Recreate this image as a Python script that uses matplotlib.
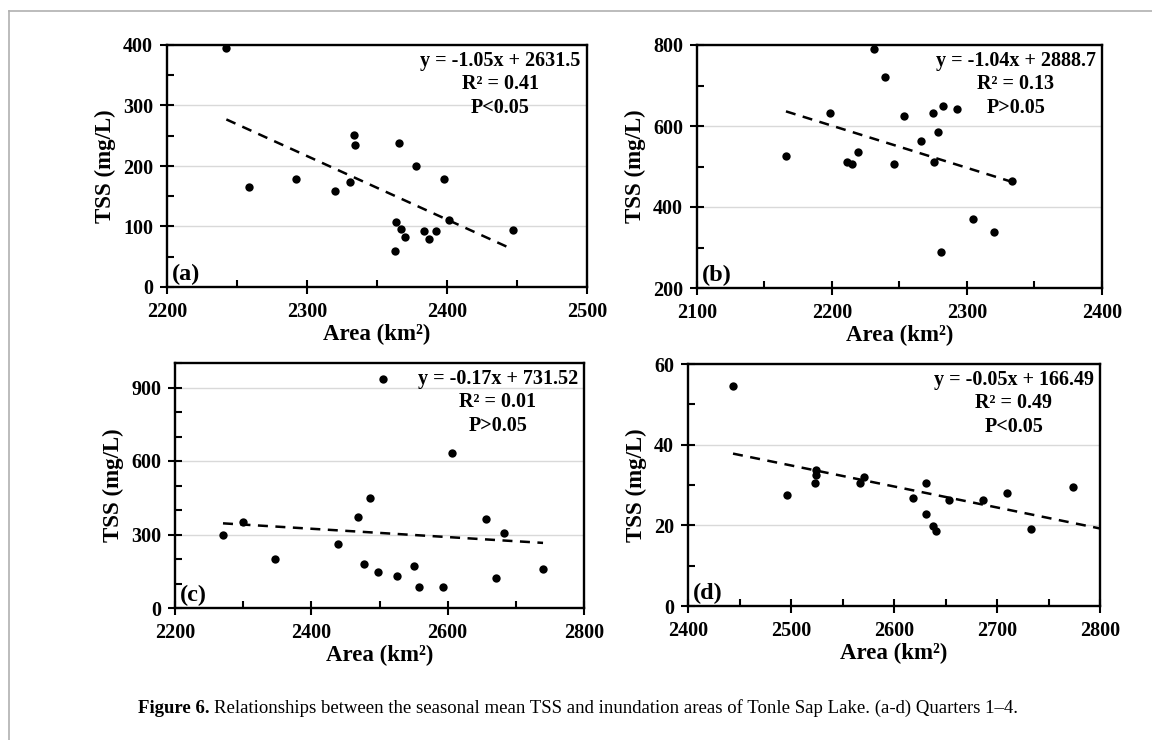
import matplotlib
matplotlib.use("Agg")
from matplotlib import pyplot as plt
from matplotlib.ticker import MultipleLocator
import numpy as np

plt.rcParams['font.family'] = ['Liberation Serif', 'DejaVu Serif']

# quarter 1 (a)
area_a = [2242.4, 2258.6, 2291.9, 2320.2, 2330.5, 2333.6, 2334.5, 2365.5, 2377.9, 2397.9,
          2401.2, 2363.3, 2366.9, 2370.0, 2362.9, 2383.3, 2386.9, 2392.4, 2446.9]
tss_a = [394.5, 165.0, 177.7, 158.9, 173.8, 251.0, 234.0, 237.8, 199.7, 177.7,
         111.4, 107.6, 95.4, 82.2, 60.1, 93.2, 80.0, 93.2, 94.9]

# quarter 2 (b)
area_b = [2165.9, 2198.5, 2211.1, 2214.6, 2219.0, 2231.1, 2239.0, 2245.7, 2253.1, 2266.2,
          2274.6, 2275.6, 2278.8, 2282.0, 2292.3, 2280.5, 2304.4, 2320.2, 2333.1]
tss_b = [526.3, 633.1, 512.3, 506.6, 537.0, 789.3, 720.3, 506.6, 624.9, 562.5,
         633.1, 509.9, 586.3, 649.6, 641.4, 288.8, 371.0, 337.3, 463.0]

# quarter 3 (c)
area_c = [2270.4, 2299.7, 2346.6, 2439.4, 2468.7, 2477.0, 2486.3, 2498.0, 2505.8, 2525.4,
          2550.8, 2558.1, 2593.8, 2606.5, 2656.8, 2670.5, 2683.2, 2739.9]
tss_c = [297.3, 351.6, 198.2, 260.6, 373.3, 179.2, 450.7, 148.0, 933.9, 130.3,
         169.7, 85.5, 85.5, 631.2, 363.8, 120.8, 305.4, 157.5]

# quarter 4 (d)
area_d = [2443.7, 2496.4, 2522.9, 2524.2, 2524.2, 2566.9, 2571.1, 2618.9, 2631.5, 2631.5,
          2637.7, 2640.6, 2653.2, 2686.5, 2710.1, 2733.4, 2773.8]
tss_d = [54.6, 27.6, 30.4, 33.7, 32.6, 30.4, 32.0, 26.8, 30.4, 22.7,
         19.8, 18.5, 26.2, 26.2, 27.9, 19.1, 29.5]

# trendline slope / intercept (unrounded where the printed one is off)
slopes = [-1.05, -1.04, -0.17, -0.0521]
intercepts = [2631.5, 2888.7, 731.52, 165.1]
forward = [0, 0, 0, 26]

eq_texts = ["y = -1.05x + 2631.5\nR² = 0.41\nP<0.05",
            "y = -1.04x + 2888.7\nR² = 0.13\nP>0.05",
            "y = -0.17x + 731.52\nR² = 0.01\nP>0.05",
            "y = -0.05x + 166.49\nR² = 0.49\nP<0.05"]
panel_tags = ["(a)", "(b)", "(c)", "(d)"]

xlims = [(2200, 2500), (2100, 2400), (2200, 2800), (2400, 2800)]
ylims = [(0, 400), (200, 800), (0, 1000), (0, 60)]
xsteps = [(100, 50), (100, 50), (200, 100), (100, 50)]
ysteps = [(100, 50), (200, 100), (300, 100), (20, 10)]

W, H = 1152, 740
# axes boxes in pixels: left, right, top, bottom
boxes = [(167, 587, 45, 287), (697, 1102, 45, 288),
         (175, 584, 363, 608), (688, 1100, 364, 606)]

fig = plt.figure(figsize=(W / 100, H / 100), dpi=100)

# page frame lines (top and left)
fig.add_artist(plt.Line2D([9 / W, 1], [1 - 11 / H, 1 - 11 / H], color='#b0b0b0', lw=1.2))
fig.add_artist(plt.Line2D([9 / W, 9 / W], [0, 1 - 11 / H], color='#b0b0b0', lw=1.2))

data = [(area_a, tss_a), (area_b, tss_b), (area_c, tss_c), (area_d, tss_d)]

for i, (xs, ys) in enumerate(data):
    l, r, t, b = boxes[i]
    ax = fig.add_axes([l / W, 1 - b / H, (r - l) / W, (b - t) / H])
    ax.set_xlim(*xlims[i])
    ax.set_ylim(*ylims[i])
    ax.xaxis.set_major_locator(MultipleLocator(xsteps[i][0]))
    ax.xaxis.set_minor_locator(MultipleLocator(xsteps[i][1]))
    ax.yaxis.set_major_locator(MultipleLocator(ysteps[i][0]))
    ax.yaxis.set_minor_locator(MultipleLocator(ysteps[i][1]))
    ax.grid(axis='y', which='major', color='#d9d9d9', lw=1.0)
    ax.set_axisbelow(True)
    for sp in ax.spines.values():
        sp.set_linewidth(1.7)
        sp.set_color('black')
    ax.tick_params(which='major', direction='inout', length=10, width=1.5,
                   labelsize=14.5, pad=6)
    ax.tick_params(axis='y', which='major', pad=5)
    ax.tick_params(which='minor', direction='in', length=5, width=1.5)
    for lab in ax.get_xticklabels() + ax.get_yticklabels():
        lab.set_fontweight('bold')

    ax.scatter(xs, ys, s=36, color='black', zorder=3, linewidths=0)

    xa = np.array(xs)
    lx = np.array([xa.min(), xa.max() + forward[i]])
    ax.plot(lx, slopes[i] * lx + intercepts[i], color='black', lw=1.8,
            dashes=(4, 3), zorder=2)

    ax.set_xlabel("Area (km²)", fontsize=16.5, fontweight='bold', labelpad=1)
    ax.set_ylabel("TSS (mg/L)", fontsize=16.5, fontweight='bold', labelpad=5)
    ax.text(0.985, 0.975, eq_texts[i], transform=ax.transAxes, ha='right', va='top',
            multialignment='center', fontsize=14.5, fontweight='bold', linespacing=1.22)
    ax.text(0.012, 0.01, panel_tags[i], transform=ax.transAxes, ha='left', va='bottom',
            fontsize=17.5, fontweight='bold')

# caption
cap1 = fig.text(138 / W, 1 - 713 / H, "Figure 6.", fontsize=13.5, fontweight='bold',
                ha='left', va='baseline')
fig.canvas.draw()
bb = cap1.get_window_extent()
fig.text((bb.x1 + 4) / W, 1 - 713 / H,
         "Relationships between the seasonal mean TSS and inundation areas of Tonle Sap Lake. (a-d) Quarters 1–4.",
         fontsize=13.5, ha='left', va='baseline')

fig.savefig("out.png", dpi=100)
